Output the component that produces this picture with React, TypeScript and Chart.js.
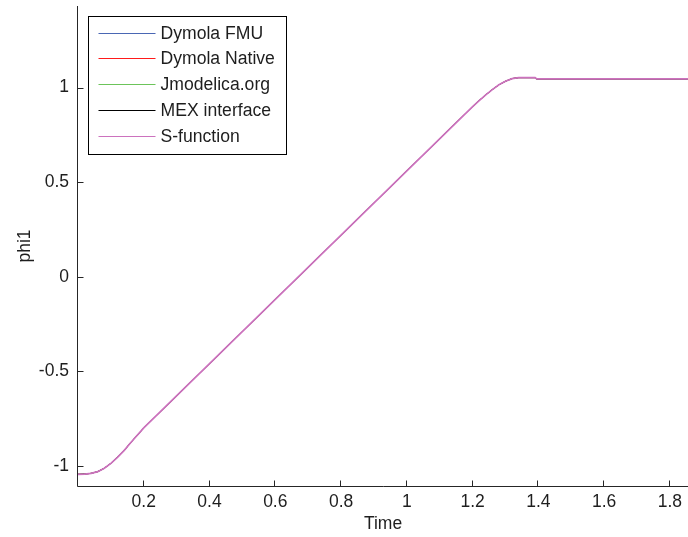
import { useEffect, useRef } from 'react';
import { Chart, registerables } from 'chart.js';

Chart.register(...registerables);

const seriesNames = ['Dymola FMU', 'Dymola Native', 'Jmodelica.org', 'MEX interface', 'S-function'];
const seriesColors = ['#4a67b4', '#ff1a1a', '#6cc45a', '#000000', '#cc72be'];

const timeValues = [
  0, 0.02, 0.04, 0.06, 0.08, 0.1, 0.12, 0.14, 0.16, 0.2, 0.4, 0.6, 0.8, 1.0, 1.2,
  1.22, 1.24, 1.26, 1.28, 1.3, 1.32, 1.34, 1.39, 1.395, 1.86,
];
const phi1Values = [
  -1.045, -1.044, -1.04, -1.031, -1.013, -0.987, -0.955, -0.92, -0.878, -0.8, -0.46, -0.12, 0.22, 0.56, 0.9,
  0.932, 0.962, 0.99, 1.015, 1.034, 1.048, 1.053, 1.053, 1.046, 1.046,
];

const xTicks = [0.2, 0.4, 0.6, 0.8, 1.0, 1.2, 1.4, 1.6, 1.8];
const yTicks = [-1, -0.5, 0, 0.5, 1];
const xLabel = 'Time';
const yLabel = 'phi1';

const FONT = 'Liberation Sans, Arial, Helvetica, sans-serif';
const TEXT = '#1e1e1e';
const AXIS = '#262626';

const axesPlugin = {
  id: 'matlabAxes',
  afterDatasetsDraw(chart: any) {
    const { ctx, chartArea } = chart;
    const xs = chart.scales.x;
    const ys = chart.scales.y;
    const left = Math.round(chartArea.left) - 0.5;
    const bottom = Math.round(chartArea.bottom) + 0.5;
    ctx.save();
    ctx.strokeStyle = AXIS;
    ctx.lineWidth = 1;
    ctx.beginPath();
    ctx.moveTo(left, Math.round(chartArea.top));
    ctx.lineTo(left, bottom);
    ctx.lineTo(chartArea.right + 2, bottom);
    xTicks.forEach((v) => {
      const px = Math.round(xs.getPixelForValue(v)) - 0.5;
      ctx.moveTo(px, bottom);
      ctx.lineTo(px, bottom - 6);
    });
    yTicks.forEach((v) => {
      const py = Math.round(ys.getPixelForValue(v)) + 0.5;
      ctx.moveTo(left, py);
      ctx.lineTo(left + 6, py);
    });
    ctx.stroke();

    // legend box
    const bx = Math.round(chartArea.left) + 10.5;
    const by = Math.round(chartArea.top) + 10.5;
    const bw = 198;
    const bh = 138;
    ctx.fillStyle = '#ffffff';
    ctx.fillRect(bx, by, bw, bh);
    ctx.strokeStyle = '#000000';
    ctx.strokeRect(bx, by, bw, bh);
    ctx.font = `17.6px ${FONT}`;
    ctx.textBaseline = 'middle';
    ctx.textAlign = 'left';
    chart.data.datasets.forEach((ds: any, i: number) => {
      const ry = Math.round(by + 16 + i * 25.8) + 0.5;
      ctx.strokeStyle = ds.borderColor;
      ctx.lineWidth = 1.2;
      ctx.beginPath();
      ctx.moveTo(bx + 10, ry);
      ctx.lineTo(bx + 67, ry);
      ctx.stroke();
      ctx.fillStyle = TEXT;
      ctx.fillText(ds.label, bx + 72, ry + 1);
    });
    ctx.restore();
  },
};

export default function App() {
  const ref = useRef<HTMLCanvasElement | null>(null);
  useEffect(() => {
    document.body.style.margin = '0';
    const canvas = ref.current;
    if (!canvas) return;
    const last = seriesNames.length - 1;
    const datasets = seriesNames.map((name, i) => ({
      label: name,
      data: timeValues.map((t, j) => ({ x: t, y: phi1Values[j] })),
      borderColor: seriesColors[i],
      backgroundColor: seriesColors[i],
      borderWidth: i === last ? 1.7 : 0.8,
      pointRadius: 0,
      tension: 0,
      fill: false,
      order: last - i,
    }));
    const chart = new Chart(canvas, {
      type: 'line',
      data: { datasets },
      plugins: [axesPlugin],
      options: {
        animation: false,
        responsive: false,
        devicePixelRatio: 1,
        layout: { padding: { top: 6, right: 0, left: 0, bottom: 0 } },
        plugins: { legend: { display: false }, tooltip: { enabled: false } },
        scales: {
          x: {
            type: 'linear',
            min: 0,
            max: 1.855,
            grid: { display: false, drawTicks: false },
            border: { display: false },
            afterBuildTicks: (s: any) => {
              s.ticks = xTicks.map((v) => ({ value: v }));
            },
            afterFit: (s: any) => {
              s.height = 51;
              s.paddingLeft = 0;
              s.paddingRight = 0;
            },
            ticks: {
              autoSkip: false,
              maxRotation: 0,
              padding: 6,
              color: TEXT,
              font: { family: FONT, size: 17.5 },
              callback: (v: any) => String(Number(v)),
            },
            title: {
              display: true,
              text: xLabel,
              color: TEXT,
              font: { family: FONT, size: 17.5 },
              padding: { top: 0, bottom: 2 },
            },
          },
          y: {
            type: 'linear',
            min: -1.107,
            max: 1.432,
            grid: { display: false, drawTicks: false },
            border: { display: false },
            afterBuildTicks: (s: any) => {
              s.ticks = yTicks.map((v) => ({ value: v }));
            },
            afterFit: (s: any) => {
              s.width = 78;
              s.paddingTop = 0;
              s.paddingBottom = 0;
            },
            ticks: {
              autoSkip: false,
              padding: 9,
              color: TEXT,
              font: { family: FONT, size: 17.5 },
              callback: (v: any) => String(Number(v)),
            },
            title: {
              display: true,
              text: yLabel,
              color: TEXT,
              font: { family: FONT, size: 17.5 },
              padding: { top: 15, bottom: 0 },
            },
          },
        },
      },
    });
    return () => chart.destroy();
  }, []);
  return (
    <div style={{ width: 688, height: 537, background: '#ffffff' }}>
      <canvas ref={ref} width={688} height={537} style={{ display: 'block', width: 688, height: 537 }} />
    </div>
  );
}
